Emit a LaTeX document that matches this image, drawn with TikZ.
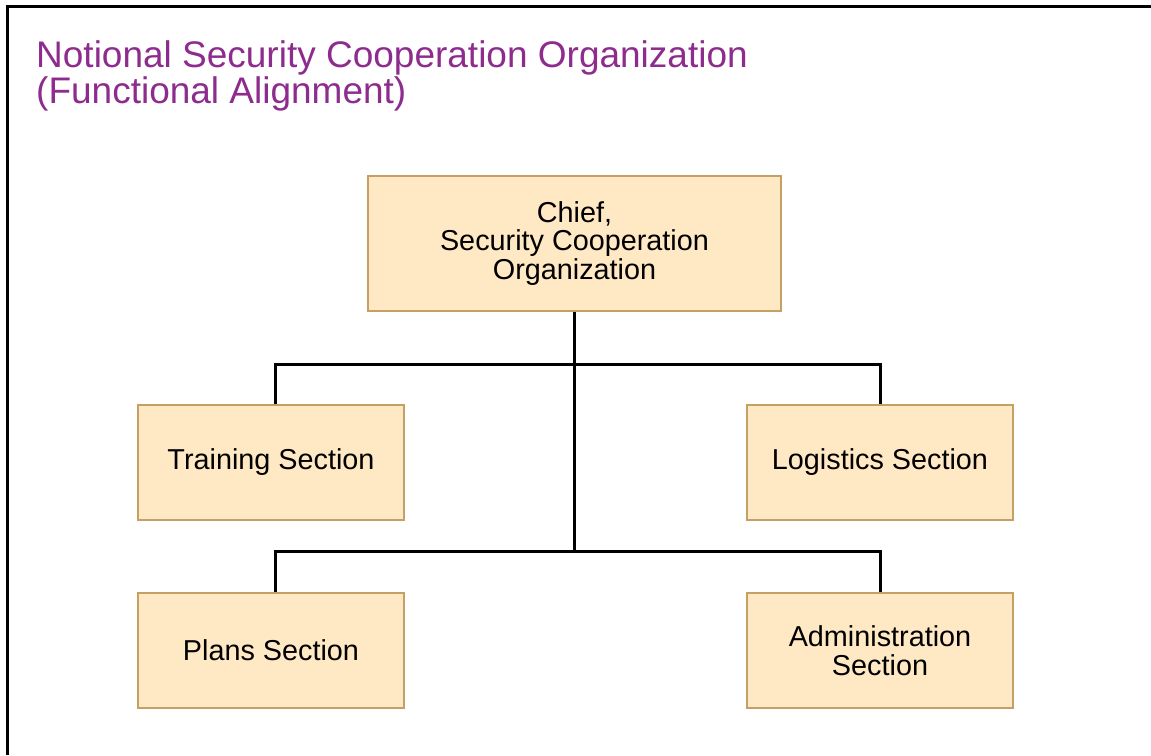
\documentclass[tikz,border=0pt]{standalone}
\usepackage{fontspec}
\setmainfont{Liberation Sans}
\usepackage{tikz}

\definecolor{boxfill}{HTML}{FFE8C4}
\definecolor{boxline}{HTML}{C4A064}
\definecolor{titlepurple}{HTML}{8E2C8E}

\begin{document}
\begin{tikzpicture}[x=1pt,y=-1pt]
\tikzstyle{section}=[draw=boxline,fill=boxfill,line width=1.5pt,align=center,
  minimum width=266pt,minimum height=115pt,inner sep=0pt,
  font=\fontsize{28.8}{28.6}\selectfont]
\tikzstyle{link}=[black,line width=3pt]
\useasboundingbox (0,0) rectangle (1151,755);
\draw [black,line width=3pt] (1151,6.5) -- (7,6.5) -- (7,755);
\node [anchor=base west,inner sep=0pt,align=left,text=titlepurple,
  font=\fontsize{37}{36.5}\selectfont] (title) at (36,103.5)
  {Notional Security Cooperation Organization\\(Functional Alignment)};
\node [section,minimum width=413pt,minimum height=135pt] (chief) at (574.5,243.5)
  {Chief,\\Security Cooperation\\Organization};
\node [section] (train) at (271,462.5) {Training Section};
\node [section] (log) at (880,462.5) {Logistics Section};
\node [section] (plans) at (271,650.5) {Plans Section};
\node [section] (admin) at (880,650.5) {Administration\\Section};
\coordinate (upbar) at (574.5,364);
\coordinate (lowbar) at (574.5,551);
\draw [link] (chief.south) -- (lowbar);
\draw [link] ([xshift=4pt]train.north) |- (upbar) -| (log.north);
\draw [link] ([xshift=4pt]plans.north) |- (lowbar) -| (admin.north);
\end{tikzpicture}
\end{document}
